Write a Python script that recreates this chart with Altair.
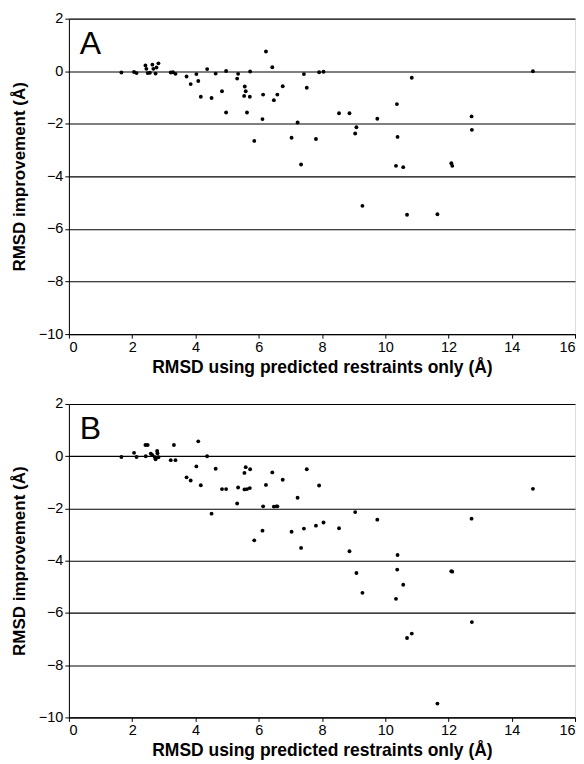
import altair as alt
import pandas as pd

a_x = [1.66, 2.06, 2.14, 2.42, 2.45, 2.49, 2.56, 2.64, 2.67, 2.74, 2.77, 2.83, 3.22, 3.29, 3.37,
       3.72, 3.85, 4.03, 4.09, 4.17, 4.37, 4.51, 4.64, 4.84, 4.97, 4.97, 5.35, 5.32, 5.56, 5.59,
       5.54, 5.72, 5.63, 5.73, 5.86, 6.14, 6.12, 6.23, 6.43, 6.48, 6.59, 6.76, 7.04, 7.23, 7.34,
       7.43, 7.52, 7.81, 7.91, 8.05, 8.54, 8.87, 9.09, 9.05, 9.28, 9.75, 10.37, 10.39, 10.34,
       10.57, 10.69, 10.84, 11.65, 12.09, 12.12, 12.73, 12.74, 14.67]
a_y = [-0.05, -0.03, -0.07, 0.22, 0.09, -0.07, -0.06, 0.25, 0.09, -0.09, 0.14, 0.30, -0.05, -0.04, -0.10,
       -0.20, -0.49, -0.11, -0.37, -0.97, 0.08, -1.02, -0.09, -0.76, 0.01, -1.57, -0.10, -0.28, -0.58, -0.76,
       -0.94, -0.97, -1.57, -0.01, -2.65, -0.89, -1.82, 0.75, 0.15, -1.10, -0.89, -0.57, -2.53, -1.95, -3.55,
       -0.11, -0.63, -2.58, -0.04, -0.02, -1.60, -1.60, -2.13, -2.37, -5.12, -1.81, -1.25, -2.50, -3.60,
       -3.65, -5.46, -0.25, -5.44, -3.50, -3.60, -1.72, -2.23, 0.00]

b_x = [1.66, 2.06, 2.14, 2.42, 2.49, 2.43, 2.59, 2.64, 2.72, 2.79, 2.80, 2.74, 2.83, 3.22, 3.37,
       3.32, 3.72, 3.85, 4.03, 4.09, 4.17, 4.37, 4.51, 4.64, 4.84, 4.97, 5.32, 5.35, 5.55, 5.59,
       5.73, 5.55, 5.63, 5.72, 5.86, 6.12, 6.14, 6.23, 6.43, 6.48, 6.56, 6.59, 6.76, 7.04, 7.23,
       7.34, 7.43, 7.52, 7.81, 7.91, 8.05, 8.54, 8.87, 9.05, 9.09, 9.28, 9.75, 10.39, 10.38, 10.34,
       10.57, 10.69, 10.84, 11.65, 12.09, 12.12, 12.73, 12.74, 14.67]
b_y = [-0.03, 0.13, -0.03, 0.43, 0.43, 0.00, 0.10, 0.04, -0.04, 0.20, 0.11, -0.12, -0.04, -0.15, -0.15,
       0.43, -0.81, -0.93, -0.39, 0.57, -1.11, 0.00, -2.20, -0.48, -1.26, -1.26, -1.81, -1.20, -0.64, -0.42,
       -0.50, -1.27, -1.26, -1.22, -3.22, -2.85, -1.92, -1.10, -0.62, -1.93, -1.92, -1.92, -0.90, -2.89, -1.59,
       -3.51, -2.77, -0.50, -2.66, -1.12, -2.54, -2.76, -3.64, -2.14, -4.47, -5.23, -2.43, -3.78, -4.34, -5.46,
       -4.92, -6.96, -6.79, -9.47, -4.40, -4.42, -2.39, -6.35, -1.25]

x_ticks = [0, 2, 4, 6, 8, 10, 12, 14, 16]
y_ticks = [2, 0, -2, -4, -6, -8, -10]
x_title = "RMSD using predicted restraints only (Å)"
y_title = "RMSD improvement (Å)"
panel_labels = ["A", "B"]

FONT = "Liberation Sans"


def panel(xs, ys, label, h):
    df = pd.DataFrame({"x": xs, "y": ys})
    pts = alt.Chart(df).mark_circle(size=15, color="black", opacity=1).encode(
        x=alt.X("x:Q", scale=alt.Scale(domain=[0, 16], nice=False),
                axis=alt.Axis(title=x_title, values=x_ticks, grid=False, tickSize=4,
                              labelFontSize=14.5, titleFontSize=17.5, titleFontWeight="bold",
                              titlePadding=5, labelPadding=2, domainColor="black",
                              tickColor="black", labelColor="black", titleColor="black",
                              labelFont=FONT, titleFont=FONT)),
        y=alt.Y("y:Q", scale=alt.Scale(domain=[-10, 2], nice=False),
                axis=alt.Axis(title=y_title, values=y_ticks, grid=True, gridColor="black",
                              gridOpacity=1, gridWidth=1.1, tickSize=4, labelFontSize=14.5,
                              titleFontSize=17, titleFontWeight="bold", titlePadding=10,
                              labelPadding=2, domainColor="black", tickColor="black",
                              labelColor="black", titleColor="black",
                              labelFont=FONT, titleFont=FONT)),
    )
    txt = alt.Chart(pd.DataFrame({"t": [label]})).mark_text(
        fontSize=32, font=FONT, align="left", baseline="alphabetic", color="black"
    ).encode(x=alt.value(11), y=alt.value(35), text="t:N")
    return alt.layer(pts, txt).properties(width=507, height=h)


chart = alt.vconcat(
    panel(a_x, a_y, panel_labels[0], 316),
    panel(b_x, b_y, panel_labels[1], 314),
    spacing=18,
).configure_view(stroke="#333333", strokeWidth=1.2).configure(
    padding={"left": 1, "top": 1, "right": 0, "bottom": 0})

chart.save("out.html", embed_options={"renderer": "svg", "actions": False})
